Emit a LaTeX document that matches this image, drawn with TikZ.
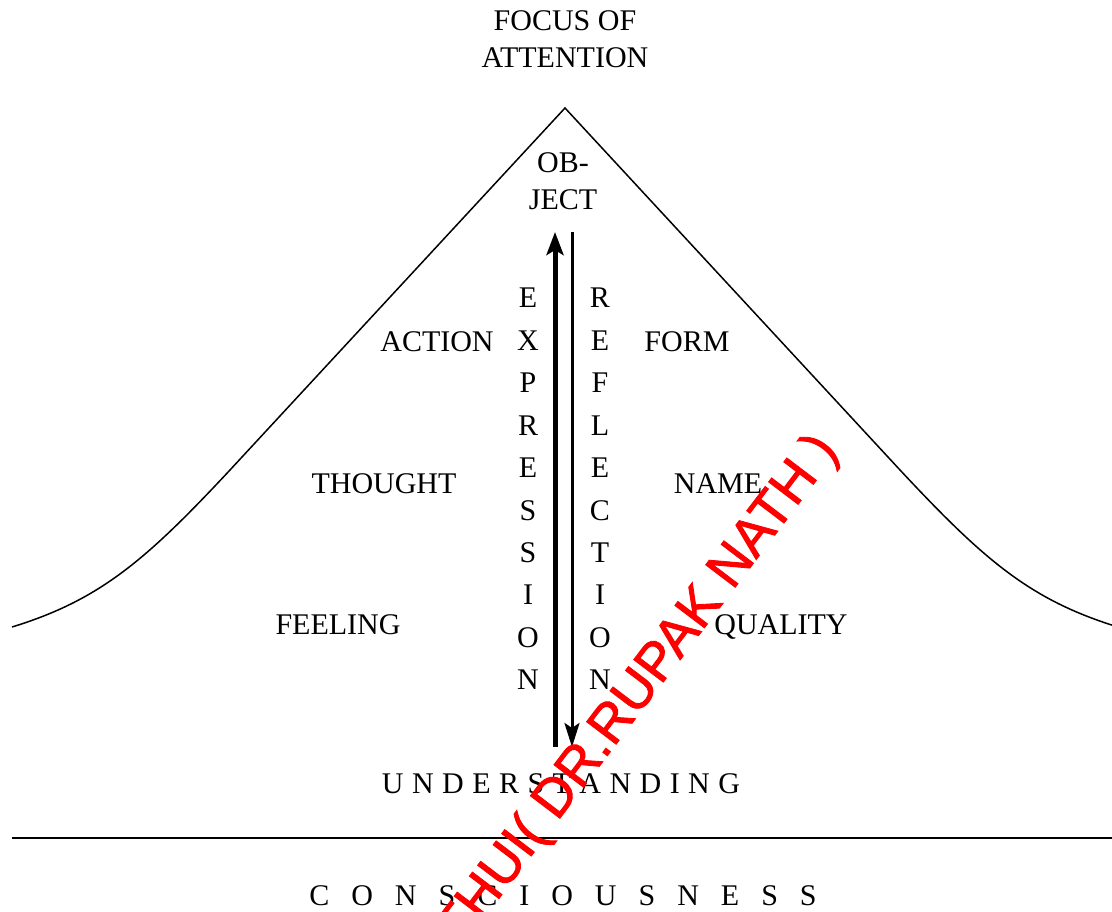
\documentclass[tikz,border=0pt]{standalone}
\usepackage{fontspec}
\setmainfont{Liberation Serif}
\newfontfamily\wmfont[FakeBold=1.6]{Liberation Sans}
\usetikzlibrary{arrows.meta}
\newcommand{\ga}{\hspace{8.45pt}}
\newcommand{\gb}{\hspace{22pt}}
\begin{document}
\begin{tikzpicture}[x=1pt,y=-1pt,
  lbl/.style={font=\fontsize{30}{36}\selectfont, inner sep=0pt, anchor=base},
  curve/.style={line width=1.5pt, line join=miter},
  uparrow/.style={line width=5pt, -{Stealth[length=23pt,width=17pt,inset=5pt]}},
  dnarrow/.style={line width=3pt, -{Stealth[length=24pt,width=15pt,inset=5pt]}},
  wm/.style={font=\wmfont\fontsize{54}{58}\selectfont, text=red, inner sep=0pt}]
\useasboundingbox (0,0) rectangle (1112,912);
\begin{scope}
\clip (0,0) rectangle (1112,912);
% mountain
\coordinate (peak) at (565,108);
\draw[curve] (12,627) .. controls (100,600) and (146,560) .. (230,470) -- (peak)
  -- (900,470) .. controls (984,560) and (1030,600) .. (1118,627);
% ground line
\coordinate (gl) at (12,838);
\coordinate (gr) at (1112,838);
\draw[line width=1.5pt] (gl) -- (gr);

% labels
\node[lbl] (focus) at (565,31) {FOCUS OF};
\node[lbl] (attn) at (565,68) {ATTENTION};
\node[lbl] (ob) at (563,173) {OB-};
\node[lbl] (ject) at (563,210) {JECT};
\node[lbl] (action) at (437,352) {ACTION};
\node[lbl] (form) at (687,352) {FORM};
\node[lbl] (thought) at (384,493) {THOUGHT};
\node[lbl] (name) at (718,493) {NAME};
\node[lbl] (feeling) at (338,634) {FEELING};
\node[lbl] (quality) at (781,634) {QUALITY};
\node[lbl] (under) at (561,793) {U\ga N\ga D\ga E\ga R\ga S\ga T\ga A\ga N\ga D\ga I\ga N\ga G};
\node[lbl] (consc) at (563,905) {C\gb O\gb N\gb S\gb C\gb I\gb O\gb U\gb S\gb N\gb E\gb S\gb S};

% vertical words
\foreach \ch [count=\i from 0] in {E,X,P,R,E,S,S,I,O,N}
  \node[lbl] (ex\i) at (528,{308+42.4*\i}) {\ch};
\foreach \ch [count=\i from 0] in {R,E,F,L,E,C,T,I,O,N}
  \node[lbl] (re\i) at (600,{308+42.4*\i}) {\ch};

% arrows
\coordinate (upb) at (555,747);
\coordinate (upt) at (555,232);
\coordinate (dnt) at (572,232);
\coordinate (dnb) at (572,747);
\draw[uparrow] (upb) -- (upt);
\draw[dnarrow] (dnt) -- (dnb);

% watermark
\node[wm, anchor=east, rotate=52.8] (wmark) at (828,442) {THUI( DR.RUPAK NATH )};
\end{scope}
\end{tikzpicture}
\end{document}
